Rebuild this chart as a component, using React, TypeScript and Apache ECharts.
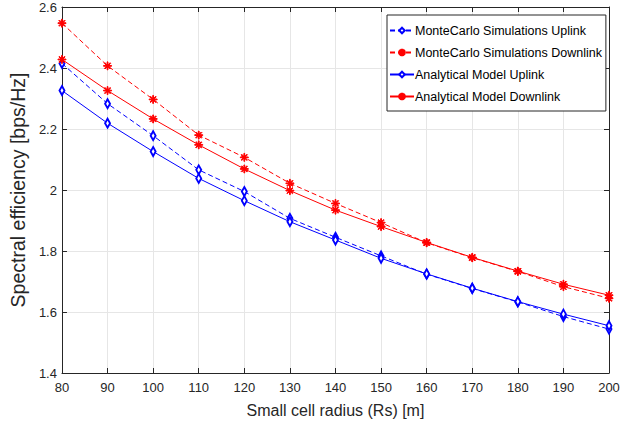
import React, { useEffect, useRef } from "react";
import * as echarts from "echarts";

const radius = [80, 90, 100, 110, 120, 130, 140, 150, 160, 170, 180, 190, 200];
const mcUplink = [2.415, 2.283, 2.178, 2.066, 1.995, 1.907, 1.845, 1.784, 1.724, 1.677, 1.633, 1.585, 1.544];
const mcDownlink = [2.547, 2.407, 2.297, 2.18, 2.107, 2.022, 1.956, 1.893, 1.827, 1.778, 1.733, 1.683, 1.645];
const anUplink = [2.326, 2.219, 2.126, 2.038, 1.965, 1.896, 1.836, 1.776, 1.725, 1.678, 1.634, 1.593, 1.555];
const anDownlink = [2.428, 2.326, 2.233, 2.148, 2.069, 1.998, 1.934, 1.88, 1.828, 1.779, 1.734, 1.691, 1.655];
const seriesNames = [
  "MonteCarlo Simulations Uplink",
  "MonteCarlo Simulations Downlink",
  "Analytical Model Uplink",
  "Analytical Model Downlink",
];

const STAR =
  "path://M0.9,0 L1.1,0 L1.1,2 L0.9,2 Z M0,0.9 L2,0.9 L2,1.1 L0,1.1 Z " +
  "M0.22,0.36 L0.36,0.22 L1.78,1.64 L1.64,1.78 Z M1.64,0.22 L1.78,0.36 L0.36,1.78 L0.22,1.64 Z";

const FONT = "Liberation Sans, Arial, sans-serif";

export default function App() {
  const ref = useRef<HTMLDivElement>(null);
  useEffect(() => {
    document.body.style.margin = "0";
    const chart = echarts.init(ref.current!, null, { renderer: "svg" });
    const pair = (ys: number[]) => radius.map((x, i) => [x, ys[i]]);
    const mk = (name: string, ys: number[], color: string, dashed: boolean, star: boolean) => ({
      name,
      type: "line",
      data: pair(ys),
      symbol: star ? STAR : "emptyDiamond",
      symbolSize: star ? 8 : [5, 9],
      showAllSymbol: true,
      lineStyle: { color, width: 1, type: dashed ? [5, 3] : "solid" },
      itemStyle: { color, borderColor: color, borderWidth: 1 },
      z: 3,
    });
    const tickColor = "#262626";
    chart.setOption({
      animation: false,
      textStyle: { fontFamily: FONT },
      grid: { left: 58, right: 34, top: 7, bottom: 55, containLabel: false },
      legend: {
        orient: "vertical",
        left: 387,
        top: 15,
        backgroundColor: "#fff",
        borderColor: "#262626",
        borderWidth: 1,
        padding: [9, 4, 8, 2],
        itemGap: 9,
        itemWidth: 24,
        itemHeight: 7,
        data: seriesNames,
        textStyle: { fontSize: 12.5, color: "#000", fontFamily: FONT, padding: [0, 0, 0, -4] },
      },
      xAxis: [
        {
          type: "value",
          min: 80,
          max: 200,
          interval: 10,
          name: "Small cell radius (Rs) [m]",
          nameLocation: "middle",
          nameGap: 29,
          nameTextStyle: { fontSize: 16, color: tickColor, fontFamily: FONT },
          axisLine: { lineStyle: { color: tickColor, width: 1 } },
          axisTick: { inside: true, length: 5, lineStyle: { color: tickColor } },
          axisLabel: { fontSize: 13, color: tickColor, margin: 8, fontFamily: FONT },
          splitLine: { show: true, lineStyle: { color: "#e6e6e6", width: 1 } },
        },
        {
          type: "value",
          position: "top",
          min: 80,
          max: 200,
          interval: 10,
          axisLine: { show: true, lineStyle: { color: tickColor, width: 1 } },
          axisTick: { show: true, inside: true, length: 5, lineStyle: { color: tickColor } },
          axisLabel: { show: false },
          splitLine: { show: false },
        },
      ],
      yAxis: [
        {
          type: "value",
          min: 1.4,
          max: 2.6,
          interval: 0.2,
          name: "Spectral efficiency [bps/Hz]",
          nameLocation: "middle",
          nameGap: 21,
          nameTextStyle: { fontSize: 19.5, color: tickColor, fontFamily: FONT },
          axisLine: { show: true, lineStyle: { color: tickColor, width: 1 } },
          axisTick: { show: true, inside: true, length: 5, lineStyle: { color: tickColor } },
          axisLabel: {
            fontSize: 13,
            color: tickColor,
            margin: 5,
            fontFamily: FONT,
            formatter: (v: number) => String(Number(v.toFixed(1))),
          },
          splitLine: { show: true, lineStyle: { color: "#e6e6e6", width: 1 } },
        },
        {
          type: "value",
          position: "right",
          min: 1.4,
          max: 2.6,
          interval: 0.2,
          axisLine: { show: true, lineStyle: { color: tickColor, width: 1 } },
          axisTick: { show: true, inside: true, length: 5, lineStyle: { color: tickColor } },
          axisLabel: { show: false },
          splitLine: { show: false },
        },
      ],
      series: [
        mk(seriesNames[0], mcUplink, "#0000ff", true, false),
        mk(seriesNames[1], mcDownlink, "#ff0000", true, true),
        mk(seriesNames[2], anUplink, "#0000ff", false, false),
        mk(seriesNames[3], anDownlink, "#ff0000", false, true),
      ],
    });
    return () => chart.dispose();
  }, []);
  return <div ref={ref} style={{ width: 643, height: 428 }} />;
}
